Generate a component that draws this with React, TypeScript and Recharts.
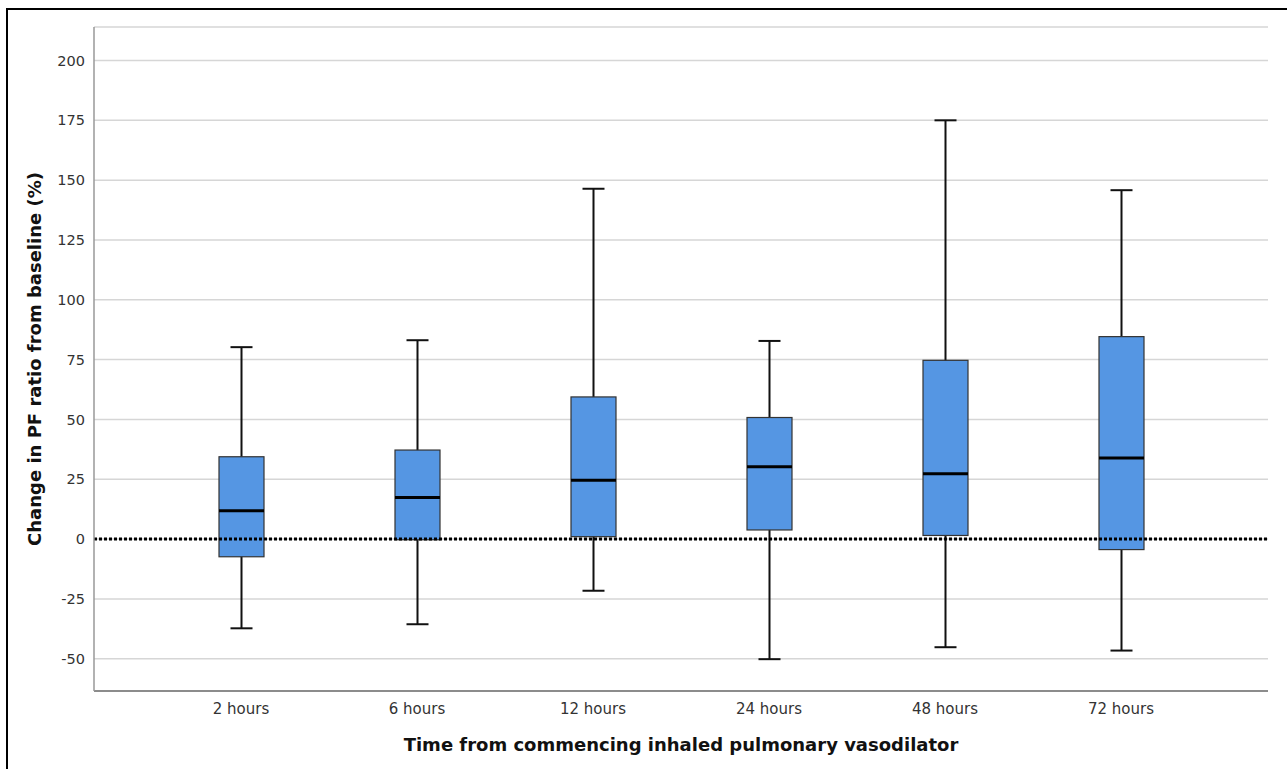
import React from "react";
import { ComposedChart, Bar, XAxis, YAxis, CartesianGrid, ReferenceLine } from "recharts";

// values (change in PF ratio, %)
const timepoints = ["2 hours", "6 hours", "12 hours", "24 hours", "48 hours", "72 hours"];
const minimum = [-37.3, -35.6, -21.6, -50.2, -45.2, -46.6];
const lowerQuartile = [-7.4, -0.3, 1.0, 3.8, 1.5, -4.4];
const median = [11.8, 17.4, 24.6, 30.2, 27.3, 33.9];
const upperQuartile = [34.4, 37.2, 59.4, 50.8, 74.7, 84.6];
const maximum = [80.2, 83.1, 146.4, 82.8, 175.0, 145.8];
const yTicks = [-50, -25, 0, 25, 50, 75, 100, 125, 150, 175, 200];

const data = timepoints.map((t, i) => ({
  time: t,
  range: [minimum[i], maximum[i]],
  min: minimum[i],
  q1: lowerQuartile[i],
  median: median[i],
  q3: upperQuartile[i],
  max: maximum[i],
}));

// whisker bar [min, max] -> draw whiskers, box and median inside it
const BoxShape = (props: any) => {
  const { x, y, width, height, payload } = props;
  const top = Math.min(y, y + height);
  const bottom = Math.max(y, y + height);
  const span = payload.max - payload.min;
  const toY = (v: number) => top + ((payload.max - v) / span) * (bottom - top);
  const cx = x + width / 2;
  const capHalf = 11;
  return (
    <g>
      <line x1={cx} x2={cx} y1={top} y2={bottom} stroke="#111" strokeWidth={2} />
      <line x1={cx - capHalf} x2={cx + capHalf} y1={top} y2={top} stroke="#111" strokeWidth={2} />
      <line x1={cx - capHalf} x2={cx + capHalf} y1={bottom} y2={bottom} stroke="#111" strokeWidth={2} />
      <rect
        x={x}
        y={toY(payload.q3)}
        width={width}
        height={toY(payload.q1) - toY(payload.q3)}
        fill="#5596e3"
        stroke="#333"
        strokeWidth={1.2}
      />
      <line x1={x} x2={x + width} y1={toY(payload.median)} y2={toY(payload.median)} stroke="#000" strokeWidth={3} />
    </g>
  );
};

const App = () => {
  return (
    <div style={{ position: "absolute", left: 0, top: 0, width: 1287, height: 769, background: "#fff" }}>
      <div
        style={{
          position: "absolute",
          left: 6,
          top: 8,
          width: 1281,
          height: 761,
          borderTop: "2px solid #000",
          borderLeft: "2px solid #000",
          boxSizing: "border-box",
        }}
      />
      <div style={{ position: "absolute", left: 0, top: 0 }}>
        <ComposedChart width={1287} height={769} data={data} margin={{ top: 27, right: 19, bottom: 8, left: 0 }}>
          <CartesianGrid horizontal={true} vertical={false} stroke="#d6d6d6" strokeWidth={1.5} />
          <XAxis
            dataKey="time"
            padding={{ left: 59, right: 59 }}
            height={70}
            tickLine={false}
            tickSize={6}
            tickMargin={6}
            axisLine={{ stroke: "#8c8c8c", strokeWidth: 2 }}
            tick={{ fill: "#333", fontSize: 15, fontFamily: "DejaVu Sans" }}
            label={{
              value: "Time from commencing inhaled pulmonary vasodilator",
              position: "insideBottom",
              offset: 10,
              style: { fill: "#111", fontSize: 18, fontWeight: "bold", fontFamily: "DejaVu Sans" },
            }}
          />
          <YAxis
            type="number"
            domain={[-63.5, 214]}
            ticks={yTicks}
            width={94}
            tickLine={false}
            tickSize={6}
            tickMargin={3}
            axisLine={{ stroke: "#999", strokeWidth: 1.5 }}
            tick={{ fill: "#333", fontSize: 14.5, fontFamily: "DejaVu Sans" }}
            label={{
              value: "Change in PF ratio from baseline (%)",
              angle: -90,
              position: "insideLeft",
              offset: 35,
              style: { fill: "#111", fontSize: 18, fontWeight: "bold", fontFamily: "DejaVu Sans", textAnchor: "middle" },
            }}
          />
          <Bar dataKey="range" barSize={45} shape={<BoxShape />} isAnimationActive={false} />
          <ReferenceLine y={0} stroke="#000" strokeWidth={3} strokeDasharray="3 2" />
        </ComposedChart>
      </div>
    </div>
  );
};

export default App;
